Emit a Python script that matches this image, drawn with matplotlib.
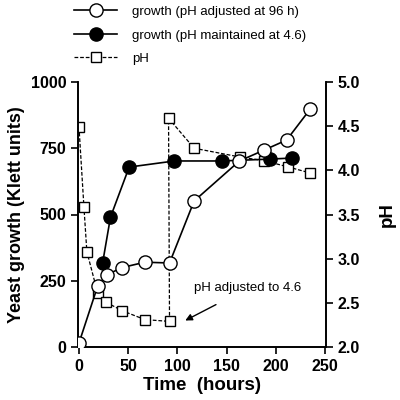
import matplotlib.pyplot as plt
from matplotlib.lines import Line2D

plt.rcParams['font.family'] = ['Liberation Sans', 'DejaVu Sans']

# growth with pH adjusted at 96 h (open circles)
t_adj = [0, 19, 28, 44, 67, 92, 117, 163, 188, 211, 235]
g_adj = [15, 230, 272, 300, 320, 317, 551, 702, 743, 781, 898]

# growth with pH maintained at 4.6 (filled circles)
t_keep = [24, 32, 51, 97, 145, 194, 216]
g_keep = [317, 490, 679, 702, 702, 709, 713]

# pH of the culture (open squares)
t_ph = [0, 5, 8, 19, 27, 44, 67, 92, 91, 117, 164, 188, 212, 235]
ph = [4.49, 3.59, 3.08, 2.61, 2.51, 2.41, 2.31, 2.29, 4.59, 4.25, 4.15, 4.11, 4.04, 3.97]

fig = plt.figure(figsize=(4, 4), dpi=100)
ax = fig.add_axes([0.195, 0.1325, 0.62, 0.6625])
ax2 = ax.twinx()
ax.set_zorder(ax2.get_zorder() + 1)
ax.patch.set_visible(False)

ax2.plot(t_ph, ph, ls='--', dashes=(3, 1.5), color='black', lw=0.9,
         marker='s', ms=6.5, mfc='white', mec='black', mew=1)
ax.plot(t_keep, g_keep, ls='-', color='black', lw=1.2,
        marker='o', ms=9.5, mfc='black', mec='black', zorder=3)
ax.plot(t_adj, g_adj, ls='-', color='black', lw=1.2,
        marker='o', ms=9.5, mfc='white', mec='black', mew=1, zorder=4)

ax.set_xlim(-1, 251)
ax.set_ylim(0, 1000)
ax2.set_ylim(2.0, 5.0)
ax.set_xticks(range(0, 251, 50))
ax.set_yticks([0, 250, 500, 750, 1000])
ax2.set_yticks([2.0, 2.5, 3.0, 3.5, 4.0, 4.5, 5.0])
ax2.set_yticklabels(['2.0', '2.5', '3.0', '3.5', '4.0', '4.5', '5.0'])

for a in (ax, ax2):
    a.spines['top'].set_visible(False)
    for s in a.spines.values():
        s.set_linewidth(1.2)
    a.tick_params(direction='out', width=1.2, length=5, labelsize=11.5)
    for lab in a.get_xticklabels() + a.get_yticklabels():
        lab.set_fontweight('bold')

ax.set_xlabel('Time  (hours)', fontsize=13.5, fontweight='bold', labelpad=2)
ax.set_ylabel('Yeast growth (Klett units)', fontsize=13, fontweight='bold')
ax2.set_ylabel('pH', fontsize=13.5, fontweight='bold', labelpad=13)

ax.annotate('pH adjusted to 4.6', xy=(108, 100), xytext=(117, 222),
            fontsize=9.5, ha='left', va='center',
            arrowprops=dict(arrowstyle='-|>', color='black', lw=1,
                            shrinkA=12, shrinkB=0, mutation_scale=10))

handles = [
    Line2D([], [], color='black', lw=1.2, marker='o', ms=9.5, mfc='white', mec='black'),
    Line2D([], [], color='black', lw=1.2, marker='o', ms=9.5, mfc='black', mec='black'),
    Line2D([], [], color='black', lw=0.9, ls='--', dashes=(3, 1.5), marker='s', ms=6.5,
           mfc='white', mec='black'),
]
labels = ['growth (pH adjusted at 96 h)', 'growth (pH maintained at 4.6)', 'pH']
fig.legend(handles, labels, loc='upper left', bbox_to_anchor=(0.155, 1.015),
           frameon=False, fontsize=9.5, handlelength=3.3, handletextpad=1.1,
           labelspacing=0.85)

fig.savefig('out.png', dpi=100)
